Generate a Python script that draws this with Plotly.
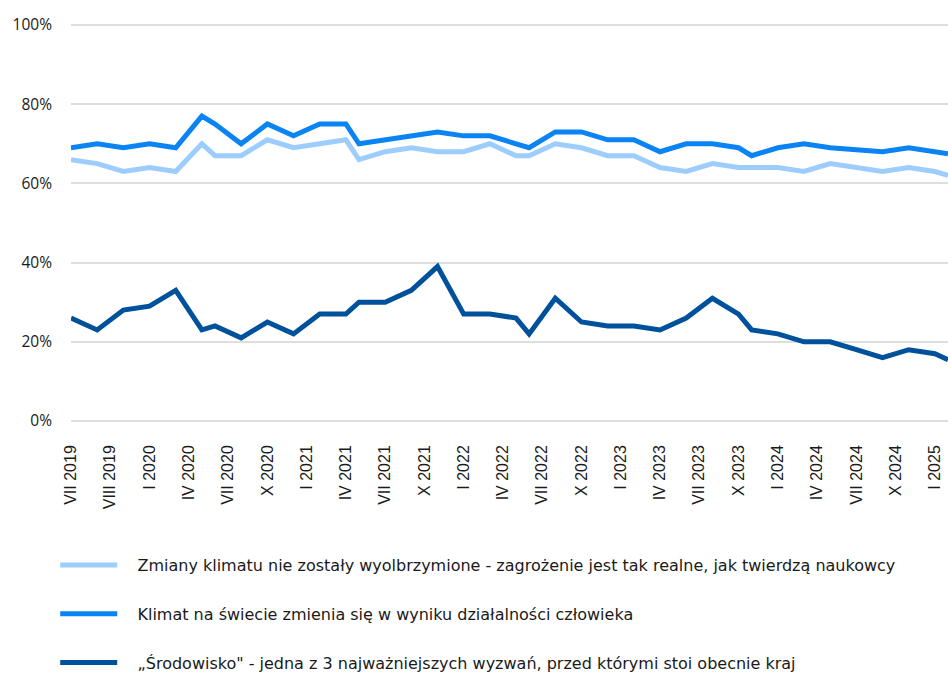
import plotly.graph_objects as go

# category positions (survey waves) on the x axis, in category units
wave_pos = [0, 2, 4, 6, 8, 10, 11, 13, 15, 17, 19, 21, 22, 24, 26, 28, 30, 32, 34, 35,
            37, 39, 41, 43, 45, 47, 49, 51, 52, 54, 56, 58, 60, 62, 64, 66, 67]

tick_pos = list(range(0, 67, 3))
tick_labels = ["VII 2019", "VIII 2019", "I 2020", "IV 2020", "VII 2020", "X 2020",
               "I 2021", "IV 2021", "VII 2021", "X 2021", "I 2022", "IV 2022",
               "VII 2022", "X 2022", "I 2023", "IV 2023", "VII 2023", "X 2023",
               "I 2024", "IV 2024", "VII 2024", "X 2024", "I 2025"]

real_threat = [66, 65, 63, 64, 63, 70, 67, 67, 71, 69, 70, 71, 66, 68, 69, 68, 68, 70, 67, 67,
               70, 69, 67, 67, 64, 63, 65, 64, 64, 64, 63, 65, 64, 63, 64, 63, 62]
human_caused = [69, 70, 69, 70, 69, 77, 75, 70, 75, 72, 75, 75, 70, 71, 72, 73, 72, 72, 70, 69,
                73, 73, 71, 71, 68, 70, 70, 69, 67, 69, 70, 69, 68.5, 68, 69, 68, 67.5]
environment = [26, 23, 28, 29, 33, 23, 24, 21, 25, 22, 27, 27, 30, 30, 33, 39, 27, 27, 26, 22,
               31, 25, 24, 24, 23, 26, 31, 27, 23, 22, 20, 20, 18, 16, 18, 17, 15.5]

series_names = [
    "Zmiany klimatu nie zostały wyolbrzymione - zagrożenie jest tak realne, jak twierdzą naukowcy",
    "Klimat na świecie zmienia się w wyniku działalności człowieka",
    "„Środowisko\" - jedna z 3 najważniejszych wyzwań, przed którymi stoi obecnie kraj",
]
series_values = [real_threat, human_caused, environment]
series_colors = ["#9dcdfd", "#0a84f5", "#00519b"]

FONT = "DejaVu Sans"
PAD = "\u00a0\u00a0\u00a0"

fig = go.Figure()
for i, (name, vals, col) in enumerate(zip(series_names, series_values, series_colors)):
    fig.add_trace(go.Scatter(
        x=wave_pos, y=vals, mode="lines", name=PAD + name,
        line=dict(color=col, width=5),
        legendgroup=str(i),
        hoverinfo="skip",
    ))

fig.update_layout(
    width=948, height=676,
    margin=dict(l=71, r=0, t=23, b=253, autoexpand=False),
    paper_bgcolor="white", plot_bgcolor="white",
    font=dict(family=FONT, size=16, color="#1a1a1a"),
    showlegend=True,
    legend=dict(
        orientation="v", x=-0.018, xanchor="left",
        yref="container", y=1 - 548 / 676, yanchor="top",
        font=dict(family=FONT, size=16, color="#1a1a1a"),
        itemwidth=57, tracegroupgap=25, traceorder="grouped",
        bgcolor="rgba(0,0,0,0)",
    ),
    xaxis=dict(
        range=[0, 67], tickmode="array", tickvals=tick_pos, ticktext=tick_labels,
        tickangle=-90, showgrid=False, zeroline=False, showline=False,
        ticks="", ticklabelstandoff=18,
        tickfont=dict(family="Liberation Sans", size=16, color="#1a1a1a"),
    ),
    yaxis=dict(
        range=[-0.5, 100.5], tickmode="array", tickvals=[0, 20, 40, 60, 80, 100],
        ticktext=["0%", "20%", "40%", "60%", "80%", "100%"], showgrid=True,
        gridcolor="#dedede", gridwidth=2, zeroline=False, showline=False,
        ticks="", ticklabelstandoff=18,
        tickfont=dict(family="Open Sans", size=15.5, color="#1a1a1a"),
    ),
)

fig.write_html("out.html")
